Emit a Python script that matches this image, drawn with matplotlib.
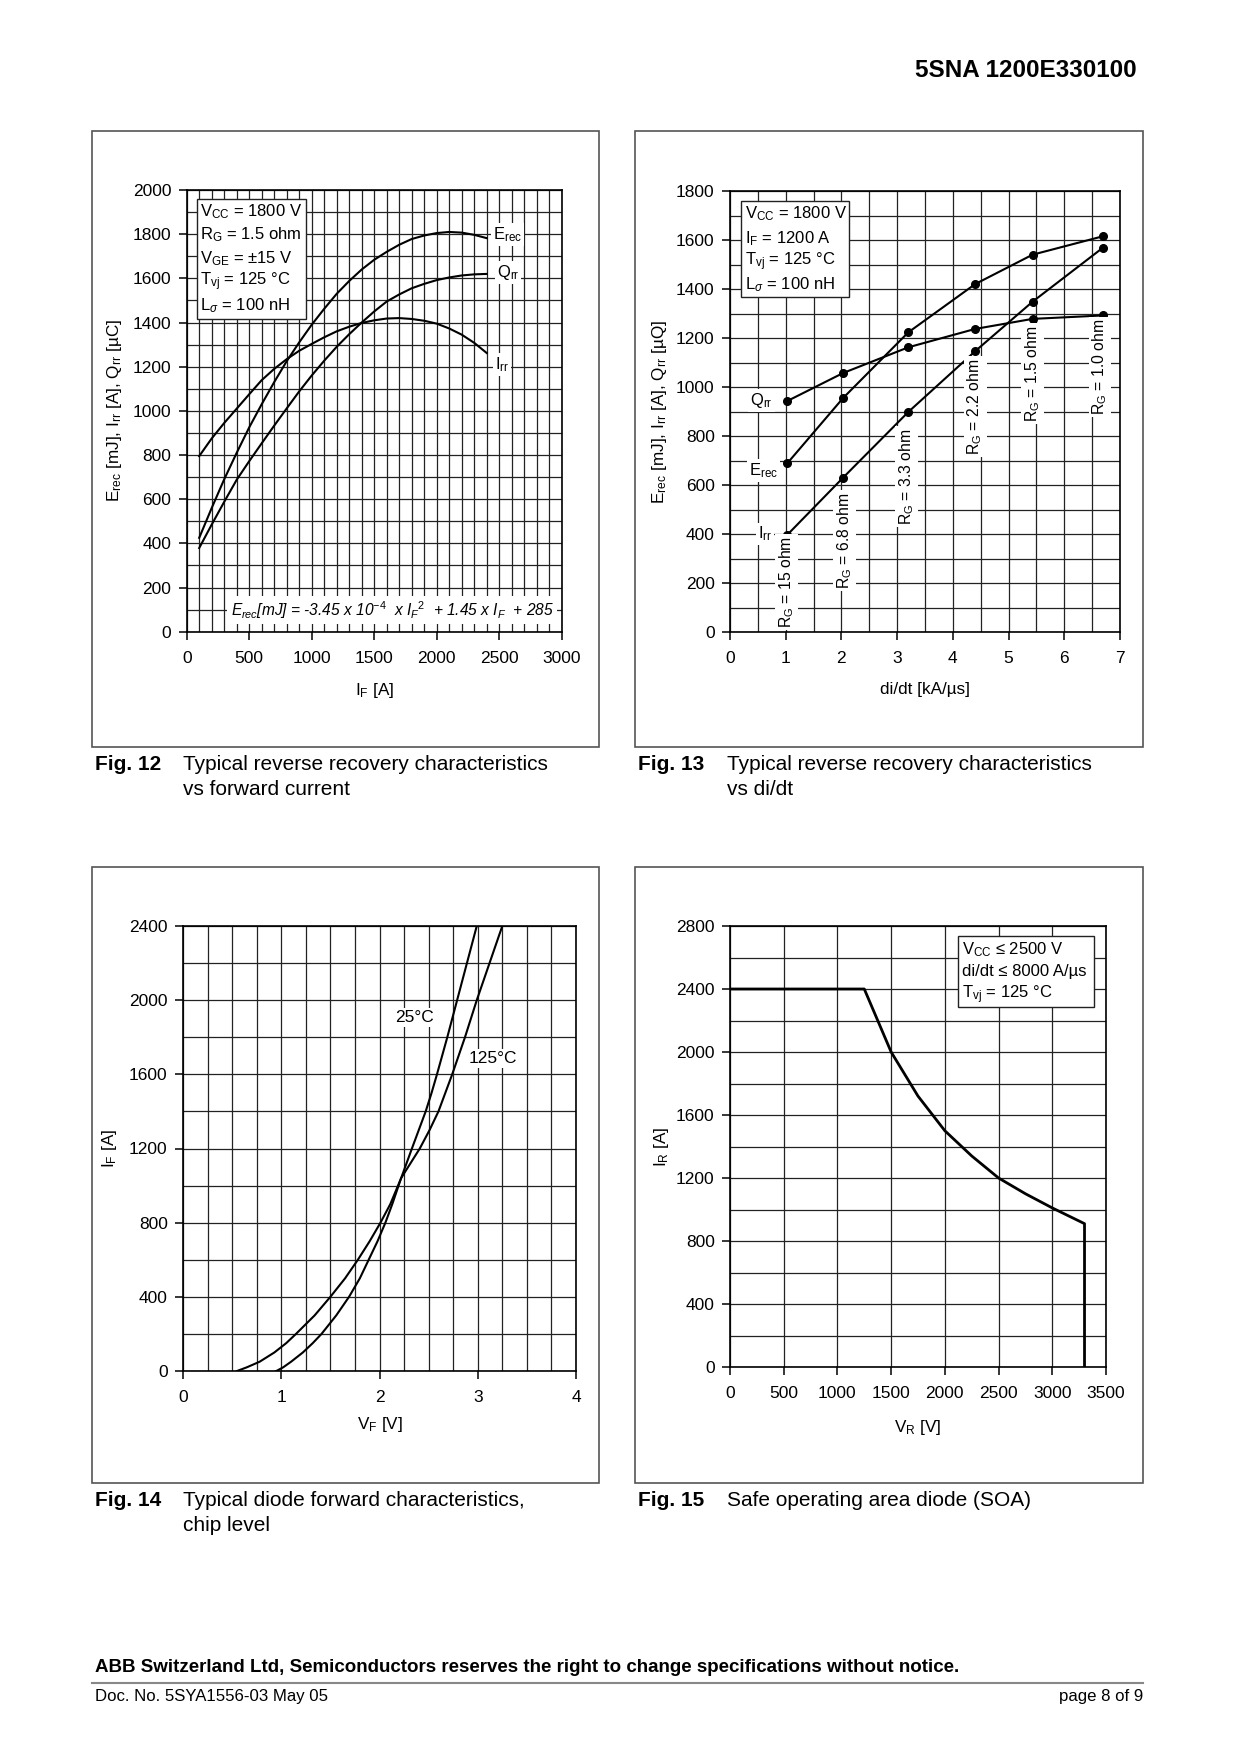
import matplotlib
matplotlib.use('Agg')
import matplotlib.pyplot as plt
from matplotlib.ticker import MultipleLocator
from matplotlib.patches import Rectangle
from matplotlib.lines import Line2D

plt.rcParams['font.family'] = ['Liberation Sans', 'DejaVu Sans']
plt.rcParams['mathtext.fontset'] = 'custom'
plt.rcParams['mathtext.rm'] = 'Liberation Sans'
plt.rcParams['mathtext.it'] = 'Liberation Sans:italic'
plt.rcParams['mathtext.bf'] = 'Liberation Sans:bold'

# Fig. 12 - reverse recovery vs forward current
if_a = [100, 200, 300, 400, 500, 600, 700, 800, 900, 1000, 1100, 1200,
        1300, 1400, 1500, 1600, 1700, 1800, 1900, 2000, 2100, 2200, 2300, 2400]
erec_if = [425, 560, 690, 810, 925, 1030, 1130, 1225, 1310, 1390, 1462, 1530,
           1588, 1640, 1684, 1720, 1752, 1778, 1794, 1805, 1810, 1807, 1797, 1782]
irr_if = [795, 875, 945, 1010, 1075, 1139, 1190, 1234, 1272, 1303, 1333, 1360,
          1381, 1398, 1410, 1418, 1420, 1416, 1408, 1395, 1373, 1345, 1308, 1262]
qrr_if = [379, 485, 588, 688, 772, 853, 933, 1011, 1088, 1160, 1227, 1290,
          1347, 1400, 1450, 1495, 1527, 1555, 1575, 1592, 1604, 1613, 1618, 1620]

# Fig. 13 - reverse recovery vs di/dt
didt = [1.03, 2.03, 3.2, 4.4, 5.43, 6.69]
rg_names = ['15', '6.8', '3.3', '2.2', '1.5', '1.0']
erec_di = [689, 955, 1223, 1420, 1540, 1615]
irr_di = [397, 630, 898, 1146, 1348, 1568]
qrr_di = [943, 1057, 1162, 1237, 1278, 1292]

# Fig. 14 - forward characteristics
if_fwd = [0, 20, 50, 100, 150, 200, 300, 400, 500, 600, 700, 800, 900, 1040,
          1200, 1300, 1400, 1500, 1600, 1800, 2000, 2200, 2400]
vf_25 = [0.95, 1.02, 1.10, 1.22, 1.32, 1.41, 1.56, 1.69, 1.80, 1.89, 1.98, 2.06, 2.13, 2.22,
         2.33, 2.40, 2.47, 2.53, 2.585, 2.69, 2.79, 2.89, 2.99]
vf_125 = [0.55, 0.65, 0.78, 0.93, 1.05, 1.15, 1.34, 1.50, 1.65, 1.78, 1.90, 2.01, 2.11, 2.22,
          2.41, 2.51, 2.60, 2.67, 2.74, 2.87, 2.99, 3.12, 3.25]

# Fig. 15 - SOA
vr_soa = [0, 1250, 1375, 1500, 1750, 2000, 2250, 2500, 2750, 3000, 3300, 3300]
ir_soa = [2400, 2400, 2200, 2000, 1720, 1500, 1340, 1200, 1100, 1010, 910, 0]

W, H = 1240, 1753
fig = plt.figure(figsize=(W / 100, H / 100), dpi=100)


def px_axes(l, t, r, b):
    return fig.add_axes([l / W, 1 - b / H, (r - l) / W, (b - t) / H])


def frame(l, t, r, b):
    fig.add_artist(Rectangle((l / W, 1 - b / H), (r - l) / W, (b - t) / H,
                             transform=fig.transFigure, fill=False, ec='#555', lw=1.2))


def setup(ax, xlim, ylim, xmaj, xmin, ymaj, ymin):
    ax.set_xlim(xlim)
    ax.set_ylim(ylim)
    ax.xaxis.set_major_locator(MultipleLocator(xmaj))
    ax.xaxis.set_minor_locator(MultipleLocator(xmin))
    ax.yaxis.set_major_locator(MultipleLocator(ymaj))
    ax.yaxis.set_minor_locator(MultipleLocator(ymin))
    ax.grid(which='both', color='#222', lw=0.9)
    ax.set_axisbelow(True)
    ax.tick_params(which='major', direction='out', length=6, width=1.1, labelsize=12.5)
    ax.tick_params(axis='x', which='major', pad=8)
    ax.tick_params(axis='y', which='major', pad=5)
    ax.tick_params(which='minor', length=0)
    for s in ax.spines.values():
        s.set_linewidth(1.2)


def infobox(ax, x0, x1, y0, y1, tx, ys, lines, fs):
    ax.add_patch(Rectangle((x0, y0), x1 - x0, y1 - y0, transform=ax.transAxes,
                           fc='white', ec='#222', lw=1.0, zorder=4))
    for y, s in zip(ys, lines):
        ax.text(tx, y, s, transform=ax.transAxes, fontsize=fs, va='center', ha='left', zorder=5)


wb = dict(facecolor='white', edgecolor='none', pad=1.5)
LW = 1.5
LAB = 12.3

# ---------- Fig. 12 ----------
frame(92, 131, 599, 747)
ax = px_axes(186.7, 190, 561.7, 631.7)
setup(ax, (0, 3000), (0, 2000), 500, 100, 200, 100)
ax.plot(if_a, erec_if, color='black', lw=LW)
ax.plot(if_a, irr_if, color='black', lw=LW)
ax.plot(if_a, qrr_if, color='black', lw=LW)
ax.text(2450, 1800, r'E$_\mathrm{rec}$', fontsize=12, va='center', ha='left', bbox=wb)
ax.text(2480, 1625, r'Q$_\mathrm{rr}$', fontsize=12, va='center', ha='left', bbox=wb)
ax.text(2465, 1210, r'I$_\mathrm{rr}$', fontsize=12, va='center', ha='left', bbox=wb)
ax.text(1646, 98, r'$\mathit{E}_{\mathit{rec}}$[mJ] = -3.45 x 10$^{\mathit{-4}}$  x $\mathit{I}_{\mathit{F}}$$^{\mathit{2}}$  + 1.45 x $\mathit{I}_{\mathit{F}}$  + 285',
        fontsize=11.2, style='italic', ha='center', va='center',
        bbox=dict(facecolor='white', edgecolor='none', pad=2.5))
infobox(ax, 0.027, 0.318, 0.708, 0.980, 0.035, [0.951, 0.898, 0.845, 0.792, 0.739],
        [r'V$_\mathrm{CC}$ = 1800 V', r'R$_\mathrm{G}$ = 1.5 ohm', r'V$_\mathrm{GE}$ = ±15 V',
         r'T$_\mathrm{vj}$ = 125 °C', r'L$_\sigma$ = 100 nH'], 12)
ax.set_xlabel(r'I$_\mathrm{F}$ [A]', fontsize=LAB)
ax.xaxis.set_label_coords(0.5, -0.112)
ax.set_ylabel(r'E$_\mathrm{rec}$ [mJ], I$_\mathrm{rr}$ [A], Q$_\mathrm{rr}$ [µC]', fontsize=LAB)
ax.yaxis.set_label_coords(-0.167, 0.5)

# ---------- Fig. 13 ----------
frame(635, 131, 1143, 747)
ax = px_axes(730, 191, 1120, 632)
setup(ax, (0, 7), (0, 1800), 1, 0.5, 200, 100)
for ser in (erec_di, irr_di, qrr_di):
    ax.plot(didt, ser, color='black', lw=LW, marker='o', ms=5.5, zorder=3)
ax.text(0.57, 943, r'Q$_\mathrm{rr}$', fontsize=12, ha='center', va='center', bbox=wb)
ax.text(0.6, 660, r'E$_\mathrm{rec}$', fontsize=12, ha='center', va='center', bbox=wb)
ax.text(0.63, 400, r'I$_\mathrm{rr}$', fontsize=12, ha='center', va='center', bbox=wb)
rg_pos = [(1.02, 203), (2.06, 373), (3.17, 635), (4.40, 920), (5.43, 1055), (6.64, 1082)]
for (x, y), n in zip(rg_pos, rg_names):
    ax.text(x, y, r'R$_\mathrm{G}$ = ' + n + ' ohm', rotation=90, fontsize=11.3,
            ha='center', va='center', bbox=wb)
infobox(ax, 0.028, 0.305, 0.760, 0.978, 0.038, [0.949, 0.893, 0.840, 0.787],
        [r'V$_\mathrm{CC}$ = 1800 V', r'I$_\mathrm{F}$ = 1200 A',
         r'T$_\mathrm{vj}$ = 125 °C', r'L$_\sigma$ = 100 nH'], 12)
ax.set_xlabel('di/dt [kA/µs]', fontsize=LAB)
ax.xaxis.set_label_coords(0.5, -0.113)
ax.set_ylabel(r'E$_\mathrm{rec}$ [mJ], I$_\mathrm{rr}$ [A], Q$_\mathrm{rr}$ [µQ]', fontsize=LAB)
ax.yaxis.set_label_coords(-0.156, 0.5)

# ---------- Fig. 14 ----------
frame(92, 867, 599, 1483)
ax = px_axes(183, 926, 576, 1371)
setup(ax, (0, 4), (0, 2400), 1, 0.25, 400, 200)
ax.plot(vf_25, if_fwd, color='black', lw=LW)
ax.plot(vf_125, if_fwd, color='black', lw=LW)
ax.text(2.357, 1907, '25°C', fontsize=12.5, ha='center', va='center', bbox=wb)
ax.text(3.153, 1686, '125°C', fontsize=12.5, ha='center', va='center', bbox=wb)
ax.set_xlabel(r'V$_\mathrm{F}$ [V]', fontsize=LAB)
ax.xaxis.set_label_coords(0.5, -0.099)
ax.set_ylabel(r'I$_\mathrm{F}$ [A]', fontsize=LAB)
ax.yaxis.set_label_coords(-0.163, 0.5)

# ---------- Fig. 15 ----------
frame(635, 867, 1143, 1483)
ax = px_axes(730, 926, 1106, 1367)
setup(ax, (0, 3500), (0, 2800), 500, 500, 400, 200)
ax.plot(vr_soa, ir_soa, color='black', lw=2.0)
infobox(ax, 0.607, 0.968, 0.817, 0.977, 0.618, [0.947, 0.896, 0.845],
        [r'V$_\mathrm{CC}$ ≤ 2500 V', 'di/dt ≤ 8000 A/µs', r'T$_\mathrm{vj}$ = 125 °C'], 12)
ax.set_xlabel(r'V$_\mathrm{R}$ [V]', fontsize=LAB)
ax.xaxis.set_label_coords(0.5, -0.116)
ax.set_ylabel(r'I$_\mathrm{R}$ [A]', fontsize=LAB)
ax.yaxis.set_label_coords(-0.157, 0.5)

# ---------- captions ----------
caps = [
    (95, 183, 764.5, 'Fig. 12', ['Typical reverse recovery characteristics', 'vs forward current']),
    (638, 727, 764.5, 'Fig. 13', ['Typical reverse recovery characteristics', 'vs di/dt']),
    (95, 183, 1500.5, 'Fig. 14', ['Typical diode forward characteristics,', 'chip level']),
    (638, 727, 1500.5, 'Fig. 15', ['Safe operating area diode (SOA)']),
]
for xf, xt, y, fn, desc in caps:
    fig.text(xf / W, 1 - y / H, fn, fontsize=15, weight='bold', va='center', ha='left')
    for i, line in enumerate(desc):
        fig.text(xt / W, 1 - (y + 24.6 * i) / H, line, fontsize=15, va='center', ha='left')

# header / footer
fig.text(1137 / W, 1 - 70.5 / H, '5SNA 1200E330100', fontsize=17.5, weight='bold',
         ha='right', va='center')
fig.text(95 / W, 1 - 1668 / H,
         'ABB Switzerland Ltd, Semiconductors reserves the right to change specifications without notice.',
         fontsize=13.5, weight='bold', ha='left', va='center')
fig.add_artist(Line2D([92 / W, 1143 / W], [1 - 1683 / H, 1 - 1683 / H], color='#888', lw=1.5,
                      transform=fig.transFigure))
fig.text(95 / W, 1 - 1697 / H, 'Doc. No. 5SYA1556-03 May 05', fontsize=12.1, ha='left', va='center')
fig.text(1143 / W, 1 - 1697 / H, 'page 8 of 9', fontsize=12.1, ha='right', va='center')

fig.savefig('out.png', dpi=100)
